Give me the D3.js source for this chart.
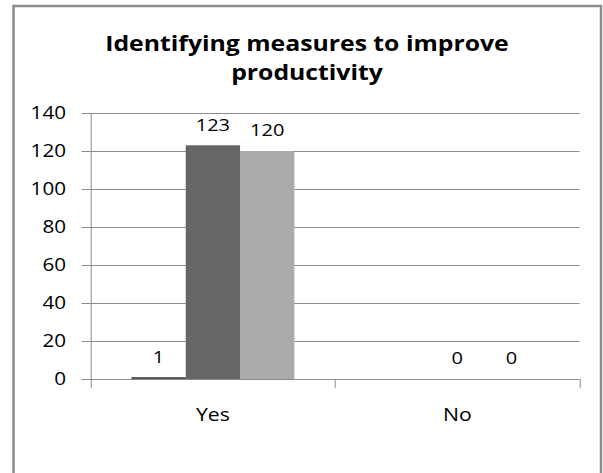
<!DOCTYPE html>
<html>
<head>
<meta charset="utf-8">
<script src="https://cdn.jsdelivr.net/npm/d3@7"></script>
<style>
  body { margin: 0; background: #fff; }
  svg { display: block; font-family: 'Open Sans', sans-serif; }
</style>
</head>
<body>
<div id="chart"></div>
<script>
const categories = ['Yes', 'No'];
const seriesNames = ['Series1', 'Series2', 'Series3'];
const series1 = [1, null];
const series2 = [123, 0];
const series3 = [120, 0];
const yTicks = [0, 20, 40, 60, 80, 100, 120, 140];
const titleLines = ['Identifying measures to improve', 'productivity'];

const colors = ['#555555', '#666666', '#aaaaaa'];

const width = 603;
const height = 473;
const margin = { top: 113, right: 23.5, bottom: 94, left: 90.7 };
const innerWidth = width - margin.left - margin.right;
const innerHeight = height - margin.top - margin.bottom;
// the reference text is drawn a bit wider than the installed font
const stretchK = 1.18;

const data = categories.map((c, i) => ({
  category: c,
  values: [series1[i], series2[i], series3[i]],
}));

const stretch = (sel) => sel.each(function () {
  const t = d3.select(this);
  const x = +t.attr('x') || 0;
  t.attr('x', x / stretchK).attr('transform', `scale(${stretchK},1)`);
});

const svg = d3.select('#chart')
  .append('svg')
  .attr('width', width)
  .attr('height', height);

// outer chart frame
svg.append('rect')
  .attr('x', 13.5)
  .attr('y', 6)
  .attr('width', 587.5)
  .attr('height', 480)
  .attr('fill', 'none')
  .attr('stroke', '#8c8c8c')
  .attr('stroke-width', 2.5);

const title = svg.append('text')
  .attr('text-anchor', 'middle')
  .attr('font-weight', 'bold')
  .attr('font-size', '21px')
  .attr('fill', '#000')
  .attr('transform', `scale(${stretchK},1)`);
title.selectAll('tspan')
  .data(titleLines)
  .enter()
  .append('tspan')
  .attr('x', 307 / stretchK)
  .attr('y', (d, i) => 51 + i * 29)
  .text((d) => d);

const g = svg.append('g')
  .attr('transform', `translate(${margin.left},${margin.top})`);

const x0 = d3.scaleBand()
  .domain(categories)
  .range([0, innerWidth])
  .paddingInner(1 / 3)
  .paddingOuter(1 / 6);
const x1 = d3.scaleBand()
  .domain(seriesNames)
  .range([0, x0.bandwidth()]);
const y = d3.scaleLinear()
  .domain([0, 140])
  .range([innerHeight, 0]);

// gridlines
g.append('g')
  .selectAll('line')
  .data(yTicks.filter((t) => t > 0))
  .enter()
  .append('line')
  .attr('x1', 0)
  .attr('x2', innerWidth)
  .attr('y1', (d) => Math.round(y(d)) + 0.5)
  .attr('y2', (d) => Math.round(y(d)) + 0.5)
  .attr('stroke', '#8c8c8c')
  .attr('stroke-width', 1);

// bars
const groups = g.selectAll('.group')
  .data(data)
  .enter()
  .append('g')
  .attr('class', 'group')
  .attr('transform', (d) => `translate(${x0(d.category)},0)`);

const cells = (d) => d.values
  .map((v, i) => ({ v, name: seriesNames[i], color: colors[i] }))
  .filter((c) => c.v !== null);

groups.selectAll('rect')
  .data(cells)
  .enter()
  .append('rect')
  .attr('x', (d) => x1(d.name))
  .attr('width', x1.bandwidth())
  .attr('y', (d) => y(d.v))
  .attr('height', (d) => innerHeight - y(d.v))
  .attr('fill', (d) => d.color);

groups.selectAll('.label')
  .data(cells)
  .enter()
  .append('text')
  .attr('class', 'label')
  .attr('x', (d) => x1(d.name) + x1.bandwidth() / 2)
  .attr('y', (d) => y(d.v) - 14.5)
  .attr('text-anchor', 'middle')
  .attr('font-size', '17px')
  .attr('fill', '#000')
  .text((d) => d.v)
  .call(stretch);

// y axis
const yAxis = g.append('g')
  .call(d3.axisLeft(y).tickValues(yTicks).tickSize(9).tickPadding(15));
yAxis.select('.domain').attr('stroke', '#8c8c8c');
yAxis.selectAll('.tick line').attr('stroke', '#8c8c8c');
yAxis.selectAll('.tick text')
  .attr('font-family', "'Open Sans', sans-serif")
  .attr('font-size', '17.5px')
  .attr('fill', '#000')
  .attr('x', -24.7)
  .call(stretch);

// x axis with ticks at category boundaries
const xAxisG = g.append('g')
  .attr('transform', `translate(0,${innerHeight})`);
xAxisG.append('line')
  .attr('x1', 0)
  .attr('x2', innerWidth)
  .attr('y1', 0.5)
  .attr('y2', 0.5)
  .attr('stroke', '#8c8c8c');
const step = x0.step();
xAxisG.selectAll('.xtick')
  .data(d3.range(categories.length + 1))
  .enter()
  .append('line')
  .attr('class', 'xtick')
  .attr('x1', (d) => Math.round(d * step) + 0.5)
  .attr('x2', (d) => Math.round(d * step) + 0.5)
  .attr('y1', 0)
  .attr('y2', 9)
  .attr('stroke', '#8c8c8c');
xAxisG.selectAll('.xlabel')
  .data(categories)
  .enter()
  .append('text')
  .attr('class', 'xlabel')
  .attr('x', (d) => x0(d) + x0.bandwidth() / 2)
  .attr('y', 42.5)
  .attr('text-anchor', 'middle')
  .attr('font-size', '18px')
  .attr('fill', '#000')
  .text((d) => d)
  .call(stretch);
</script>
</body>
</html>
